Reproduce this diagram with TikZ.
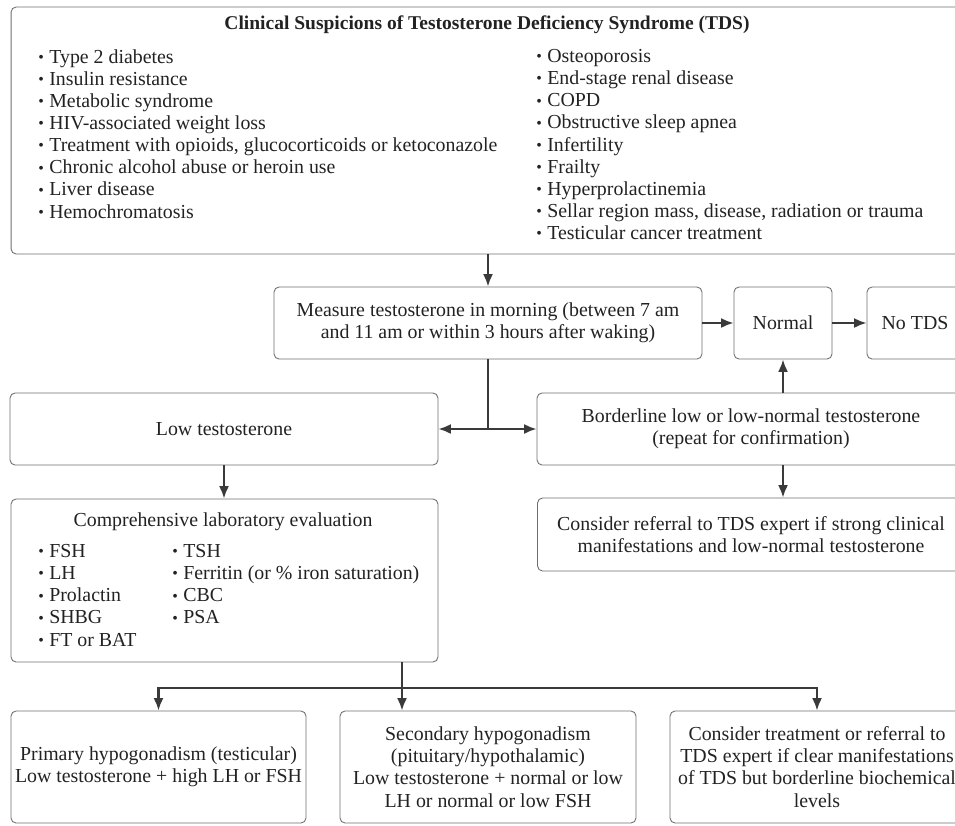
\documentclass[tikz,border=0pt]{standalone}
\usepackage{fontspec}
\setmainfont{Liberation Serif}
\usepackage{graphicx}
\usetikzlibrary{arrows}
\usetikzlibrary{arrows.meta}
\usetikzlibrary{calc}
\definecolor{boxgray}{HTML}{6E6E6E}
\definecolor{linegray}{HTML}{3A3A3A}
\definecolor{textgray}{HTML}{222222}
\newcommand{\blt}{\makebox[0.22cm][l]{\raisebox{0.4pt}{\scalebox{0.8}{\textbullet}}}}
\tikzset{
	box/.style={draw=boxgray,line width=0.5pt,rounded corners=0.1cm,inner sep=0pt,text=textgray,align=center,font=\fontsize{11.3pt}{12.6pt}\selectfont},
	plain/.style={text=textgray,inner sep=0pt,align=left,font=\fontsize{11.3pt}{12.6pt}\selectfont},
	link/.style={draw=linegray,line width=1.2pt},
	edge/.style={link,->,> = {Latex[length=0.25cm,width=0.2cm]}}
}

\begin{document}
\begin{tikzpicture}[x=0.02cm,y=-0.02cm]
	\useasboundingbox (0,0) rectangle (955,825);
	\clip (0,0) rectangle (955,825);
	
	% suspicions
	\node[box,minimum width=19.04cm,minimum height=4.94cm] (susp) at (487,130.5) {};
	\node[plain,font=\fontsize{11.1pt}{12.6pt}\selectfont\bfseries] (susptitle) at (487,25) {Clinical Suspicions of Testosterone Deficiency Syndrome (TDS)};
	\node[plain,anchor=north west] (suspleft) at (38,49) {\blt Type 2 diabetes\\ \blt Insulin resistance\\ \blt Metabolic syndrome\\ \blt HIV-associated weight loss\\ \blt Treatment with opioids, glucocorticoids or ketoconazole\\ \blt Chronic alcohol abuse or heroin use\\ \blt Liver disease\\ \blt Hemochromatosis};
	\node[plain,anchor=north west] (suspright) at (536,49) {\blt Osteoporosis\\ \blt End-stage renal disease\\ \blt COPD\\ \blt Obstructive sleep apnea\\ \blt Infertility\\ \blt Frailty\\ \blt Hyperprolactinemia\\ \blt Sellar region mass, disease, radiation or trauma\\ \blt Testicular cancer treatment};
	
	% measurement
	\node[box,minimum width=8.56cm,minimum height=1.44cm] (measure) at (488,323) {Measure testosterone in morning (between 7 am\\ and 11 am or within 3 hours after waking)};
	\node[box,minimum width=1.96cm,minimum height=1.44cm] (normal) at (783,323) {Normal};
	\node[box,minimum width=1.92cm,minimum height=1.44cm] (notds) at (915,323) {No TDS};
	\node[box,minimum width=8.56cm,minimum height=1.44cm] (low) at (224,429) {Low testosterone};
	\node[box,minimum width=8.56cm,minimum height=1.44cm] (border) at (751,429) {Borderline low or low-normal testosterone\\ (repeat for confirmation)};
	\node[box,minimum width=8.54cm,minimum height=1.46cm] (refer) at (751,534.5) {Consider referral to TDS expert if strong clinical\\ manifestations and low-normal testosterone};
	
	% laboratory
	\node[box,minimum width=8.54cm,minimum height=3.26cm] (lab) at (224.5,580.5) {};
	\node[plain] (labtitle) at (223,522) {Comprehensive laboratory evaluation};
	\node[plain,anchor=north west] (lableft) at (38,544) {\blt FSH\\ \blt LH\\ \blt Prolactin\\ \blt SHBG\\ \blt FT or BAT};
	\node[plain,anchor=north west] (labright) at (172,544) {\blt TSH\\ \blt Ferritin (or \% iron saturation)\\ \blt CBC\\ \blt PSA};
	
	% outcomes
	\node[box,minimum width=5.90cm,minimum height=2.24cm] (prim) at (158.5,767) {Primary hypogonadism (testicular)\\ Low testosterone + high LH or FSH};
	\node[box,minimum width=5.92cm,minimum height=2.24cm] (sec) at (488,767) {Secondary hypogonadism\\ (pituitary/hypothalamic)\\ Low testosterone + normal or low\\ LH or normal or low FSH};
	\node[box,minimum width=5.88cm,minimum height=2.24cm] (cons) at (817,767) {Consider treatment or referral to\\ TDS expert if clear manifestations\\ of TDS but borderline biochemical\\ levels};
	
	\draw[edge] (susp.south -| measure.north) -- (measure.north);
	\draw[edge] (measure.east) -- (normal.west);
	\draw[edge] (normal.east) -- (notds.west);
	\draw[link] (measure.south) -- (measure.south |- low.east) coordinate (split);
	\draw[edge] (split) -- (low.east);
	\draw[edge] (split) -- (border.west);
	\draw[edge] (border.north -| normal.south) -- (normal.south);
	\draw[edge] (border.south -| normal.south) -- (refer.north -| normal.south);
	\draw[edge] (low.south) -- (low.south |- lab.north);
	\coordinate (fork) at (402,688);
	\draw[link] (lab.south -| fork) -- (fork);
	\draw[edge] (fork) -- (fork |- sec.north);
	\draw[edge] (fork) -| (prim.north);
	\draw[edge] (fork) -| (cons.north);
\end{tikzpicture}
\end{document}
